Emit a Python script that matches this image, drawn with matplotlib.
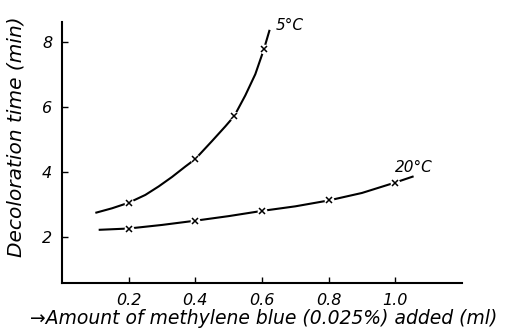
"""
Decoloration time vs amount of methylene blue added, at 5 and 20 deg C
"""
import matplotlib
matplotlib.use('Agg')
from matplotlib import pyplot as plt

# measured points (x markers)
x_5c = [0.2, 0.4, 0.517, 0.606]
y_5c = [3.06, 4.40, 5.72, 7.77]
x_20c = [0.2, 0.4, 0.6, 0.8, 1.0]
y_20c = [2.27, 2.51, 2.81, 3.13, 3.68]

# hand-drawn curves
curve_x_5c = [0.10, 0.15, 0.20, 0.25, 0.29, 0.33, 0.37, 0.40, 0.45, 0.49, 0.517, 0.55, 0.58, 0.606, 0.623]
curve_y_5c = [2.75, 2.89, 3.06, 3.30, 3.56, 3.85, 4.17, 4.40, 4.95, 5.40, 5.72, 6.35, 7.00, 7.77, 8.36]
curve_x_20c = [0.11, 0.20, 0.30, 0.40, 0.50, 0.60, 0.70, 0.80, 0.90, 1.00, 1.055]
curve_y_20c = [2.23, 2.27, 2.38, 2.51, 2.65, 2.81, 2.95, 3.13, 3.36, 3.68, 3.87]

x_ticks = [0.2, 0.4, 0.6, 0.8, 1.0]
x_tick_labels = ['0.2', '0.4', '0.6', '0.8', '1.0']
y_ticks = [2, 4, 6, 8]

fig = plt.figure(figsize=(5.19, 3.30), dpi=100)
ax = fig.add_axes([0.1195, 0.1424, 0.7705, 0.7909])

for cx, cy, mx, my in [(curve_x_5c, curve_y_5c, x_5c, y_5c),
                       (curve_x_20c, curve_y_20c, x_20c, y_20c)]:
    ax.plot(cx, cy, color='black', lw=1.5, solid_capstyle='butt',
            solid_joinstyle='round')
    # small gap in the line around each cross
    ax.plot(mx, my, 'o', ms=6, color='white', mec='white')
    ax.plot(mx, my, 'x', ms=4.5, color='black', mew=1.1)

ax.set_xlim(0, 1.2)
ax.set_ylim(0.6, 8.6)
ax.set_xticks(x_ticks)
ax.set_xticklabels(x_tick_labels)
ax.set_yticks(y_ticks)
ax.tick_params(direction='in', length=4, width=1, labelsize=11.5, pad=7)
for lab in ax.get_xticklabels() + ax.get_yticklabels():
    lab.set_fontstyle('italic')

for side in ['top', 'right']:
    ax.spines[side].set_visible(False)
for side in ['left', 'bottom']:
    ax.spines[side].set_linewidth(1.5)

ax.text(0.64, 8.5, '5°C', fontsize=11, style='italic', ha='left', va='center')
ax.text(1.0, 4.15, '20°C', fontsize=11, style='italic', ha='left', va='center')

fig.text(0.03, 0.585, 'Decoloration time (min)', rotation=90, fontsize=14.5,
         style='italic', ha='center', va='center')
fig.text(0.057, 0.035, '→Amount of methylene blue (0.025%) added (ml)', fontsize=13.5,
         style='italic', ha='left', va='center')

fig.savefig('out.png', dpi=100)
